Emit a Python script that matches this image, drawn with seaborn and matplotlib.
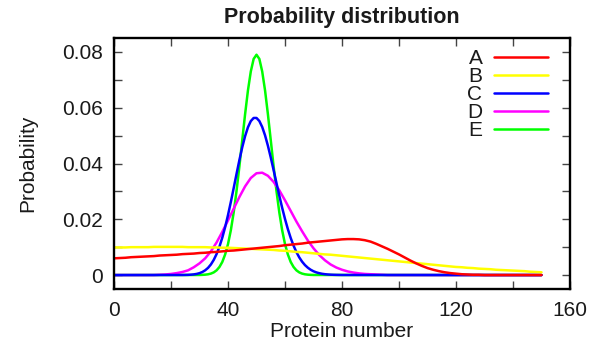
import matplotlib
matplotlib.use("Agg")
import matplotlib.pyplot as plt
import seaborn as sns
import pandas as pd

# ---------------- data ----------------
x_grid = list(range(0, 152, 2))          # 0, 2, ..., 150

A_vals = [.0060, .0061, .0062, .0064, .0065, .0066, .0067, .0068, .0070, .0071,
          .0072, .0073, .0075, .0076, .0077, .0079, .0080, .0082, .0083, .0085,
          .0087, .0088, .0090, .0092, .0094, .0096, .0098, .0100, .0102, .0104,
          .0107, .0109, .0111, .0113, .0116, .0118, .0120, .0122, .0124, .0126,
          .0128, .0129, .0129, .0128, .0125, .0120, .0112, .0103, .0094, .0084,
          .0074, .0063, .0052, .0042, .0033, .0025, .0019, .0014, .0010, .0007,
          .0005, .0003, .0002, .0001, .0001, 0, 0, 0, 0, 0,
          0, 0, 0, 0, 0, 0]

B_vals = [.0099, .0099, .0099, .0100, .0100, .0100, .0100, .0101, .0101, .0101,
          .0101, .0101, .0101, .0100, .0100, .0100, .0100, .0099, .0099, .0098,
          .0098, .0097, .0096, .0095, .0094, .0093, .0092, .0091, .0090, .0088,
          .0087, .0085, .0083, .0082, .0080, .0078, .0076, .0074, .0073, .0071,
          .0069, .0067, .0065, .0063, .0061, .0059, .0057, .0055, .0053, .0051,
          .0049, .0047, .0045, .0043, .0041, .0039, .0037, .0035, .0033, .0031,
          .0029, .0028, .0026, .0025, .0023, .0022, .0021, .0019, .0018, .0017,
          .0016, .0015, .0014, .0012, .0011, .0010]

C_x = [0] + list(range(24, 81)) + [150]
C_vals = [0,
          .00002, .00004, .00007, .00014, .00024, .00041, .00068, .00109, .00171, .00258,
          .00380, .00544, .00755, .01020, .01342, .01720, .02150, .02622, .03121, .03629,
          .04124, .04583, .04981, .05299, .05520, .05633, .05633, .05523, .05310, .05009,
          .04638, .04216, .03765, .03303, .02847, .02413, .02011, .01648, .01329, .01055,
          .00824, .00634, .00480, .00358, .00264, .00191, .00136, .00096, .00067, .00046,
          .00031, .00021, .00014, .00009, .00006, .00004, .00002,
          0]

D_vals = [0, 0, 0, 0, 0, 0, 0, 0, .0001, .0002,
          .0004, .0007, .0011, .0017, .0028, .0042, .0060, .0085, .0117, .0155,
          .0196, .0238, .0280, .0318, .0348, .0365, .0367, .0356, .0334, .0304,
          .0268, .0230, .0192, .0157, .0124, .0096, .0072, .0053, .0038, .0027,
          .0019, .0013, .0009, .0006, .0004, .0003, .0002, .0001, 0, 0,
          0, 0, 0, 0, 0, 0, 0, 0, 0, 0,
          0, 0, 0, 0, 0, 0, 0, 0, 0, 0,
          0, 0, 0, 0, 0, 0]

E_x = [0] + list(range(30, 71)) + [150]
E_vals = [0,
          .00003, .00007, .00014, .00027, .00052, .00096, .0017, .0029, .0047, .0074,
          .0111, .0161, .0225, .0302, .0390, .0484, .0577, .0662, .0730, .0775,
          .0790,
          .0775, .0730, .0662, .0577, .0484, .0390, .0302, .0225, .0161, .0111,
          .0074, .0047, .0029, .0017, .00096, .00052, .00027, .00014, .00007, .00003,
          0]

series_names = ["A", "B", "C", "D", "E"]
series_colors = ["#ff0000", "#ffff00", "#0000ff", "#ff00ff", "#00ff00"]

x_ticks = [0, 40, 80, 120, 160]
x_tick_labels = ["0", "40", "80", "120", "160"]
y_ticks = [0, 0.02, 0.04, 0.06, 0.08]
y_tick_labels = ["0", "0.02", "0.04", "0.06", "0.08"]

title = "Probability distribution"
x_label = "Protein number"
y_label = "Probability"

# ---------------- build long-form table ----------------
frames = []
for name, xs, ys in [("A", x_grid, A_vals), ("B", x_grid, B_vals),
                     ("C", C_x, C_vals), ("D", x_grid, D_vals),
                     ("E", E_x, E_vals)]:
    frames.append(pd.DataFrame({"x": xs, "y": ys, "series": name}))
df = pd.concat(frames, ignore_index=True)

# ---------------- style ----------------
sns.set_theme(style="ticks")
plt.rcParams["font.family"] = ["Liberation Sans", "DejaVu Sans"]
text_color = "#1a1a1a"

fig = plt.figure(figsize=(6.07, 3.53), dpi=100)
ax = fig.add_axes([114 / 607, 1 - 289 / 353, 456 / 607, 251 / 353])

palette = dict(zip(series_names, series_colors))
# draw in reverse order so A ends on top (as in the reference)
for name in reversed(series_names):
    sub = df[df["series"] == name]
    sns.lineplot(data=sub, x="x", y="y", color=palette[name], label=name,
                 linewidth=1.8, ax=ax, estimator=None, sort=False)

ax.set_xlim(0, 160)
ax.set_ylim(-0.005, 0.085)

ax.set_xticks(x_ticks)
ax.set_xticklabels(x_tick_labels)
ax.set_xticks([20, 60, 100, 140], minor=True)
ax.set_yticks(y_ticks)
ax.set_yticklabels(y_tick_labels)
ax.set_yticks([0.01, 0.03, 0.05, 0.07], minor=True)

ax.tick_params(which="both", direction="in", length=6, width=1.0,
               color="#444444", top=True, right=True,
               labelsize=15, labelcolor=text_color)
ax.tick_params(axis="x", which="both", pad=9)
ax.tick_params(axis="y", which="both", pad=8)

for sp in ax.spines.values():
    sp.set_linewidth(1.7)
    sp.set_color("black")

ax.set_xlabel(x_label, fontsize=15, color=text_color, labelpad=1)
ax.set_ylabel(y_label, fontsize=15, color=text_color, labelpad=18)
ax.set_title(title, fontsize=15.5, fontweight="bold", color=text_color, pad=11)

handles, labels = ax.get_legend_handles_labels()
order = [labels.index(n) for n in series_names]
leg = ax.legend([handles[i] for i in order], [labels[i] for i in order],
                loc="upper right", bbox_to_anchor=(0.952, 0.955),
                frameon=False, markerfirst=False, handlelength=2.6,
                handletextpad=0.55, labelspacing=-0.05, borderpad=0,
                borderaxespad=0, fontsize=15)
for t in leg.get_texts():
    t.set_color(text_color)
for h in leg.get_lines():
    h.set_linewidth(1.8)

fig.savefig("out.png", dpi=100)
